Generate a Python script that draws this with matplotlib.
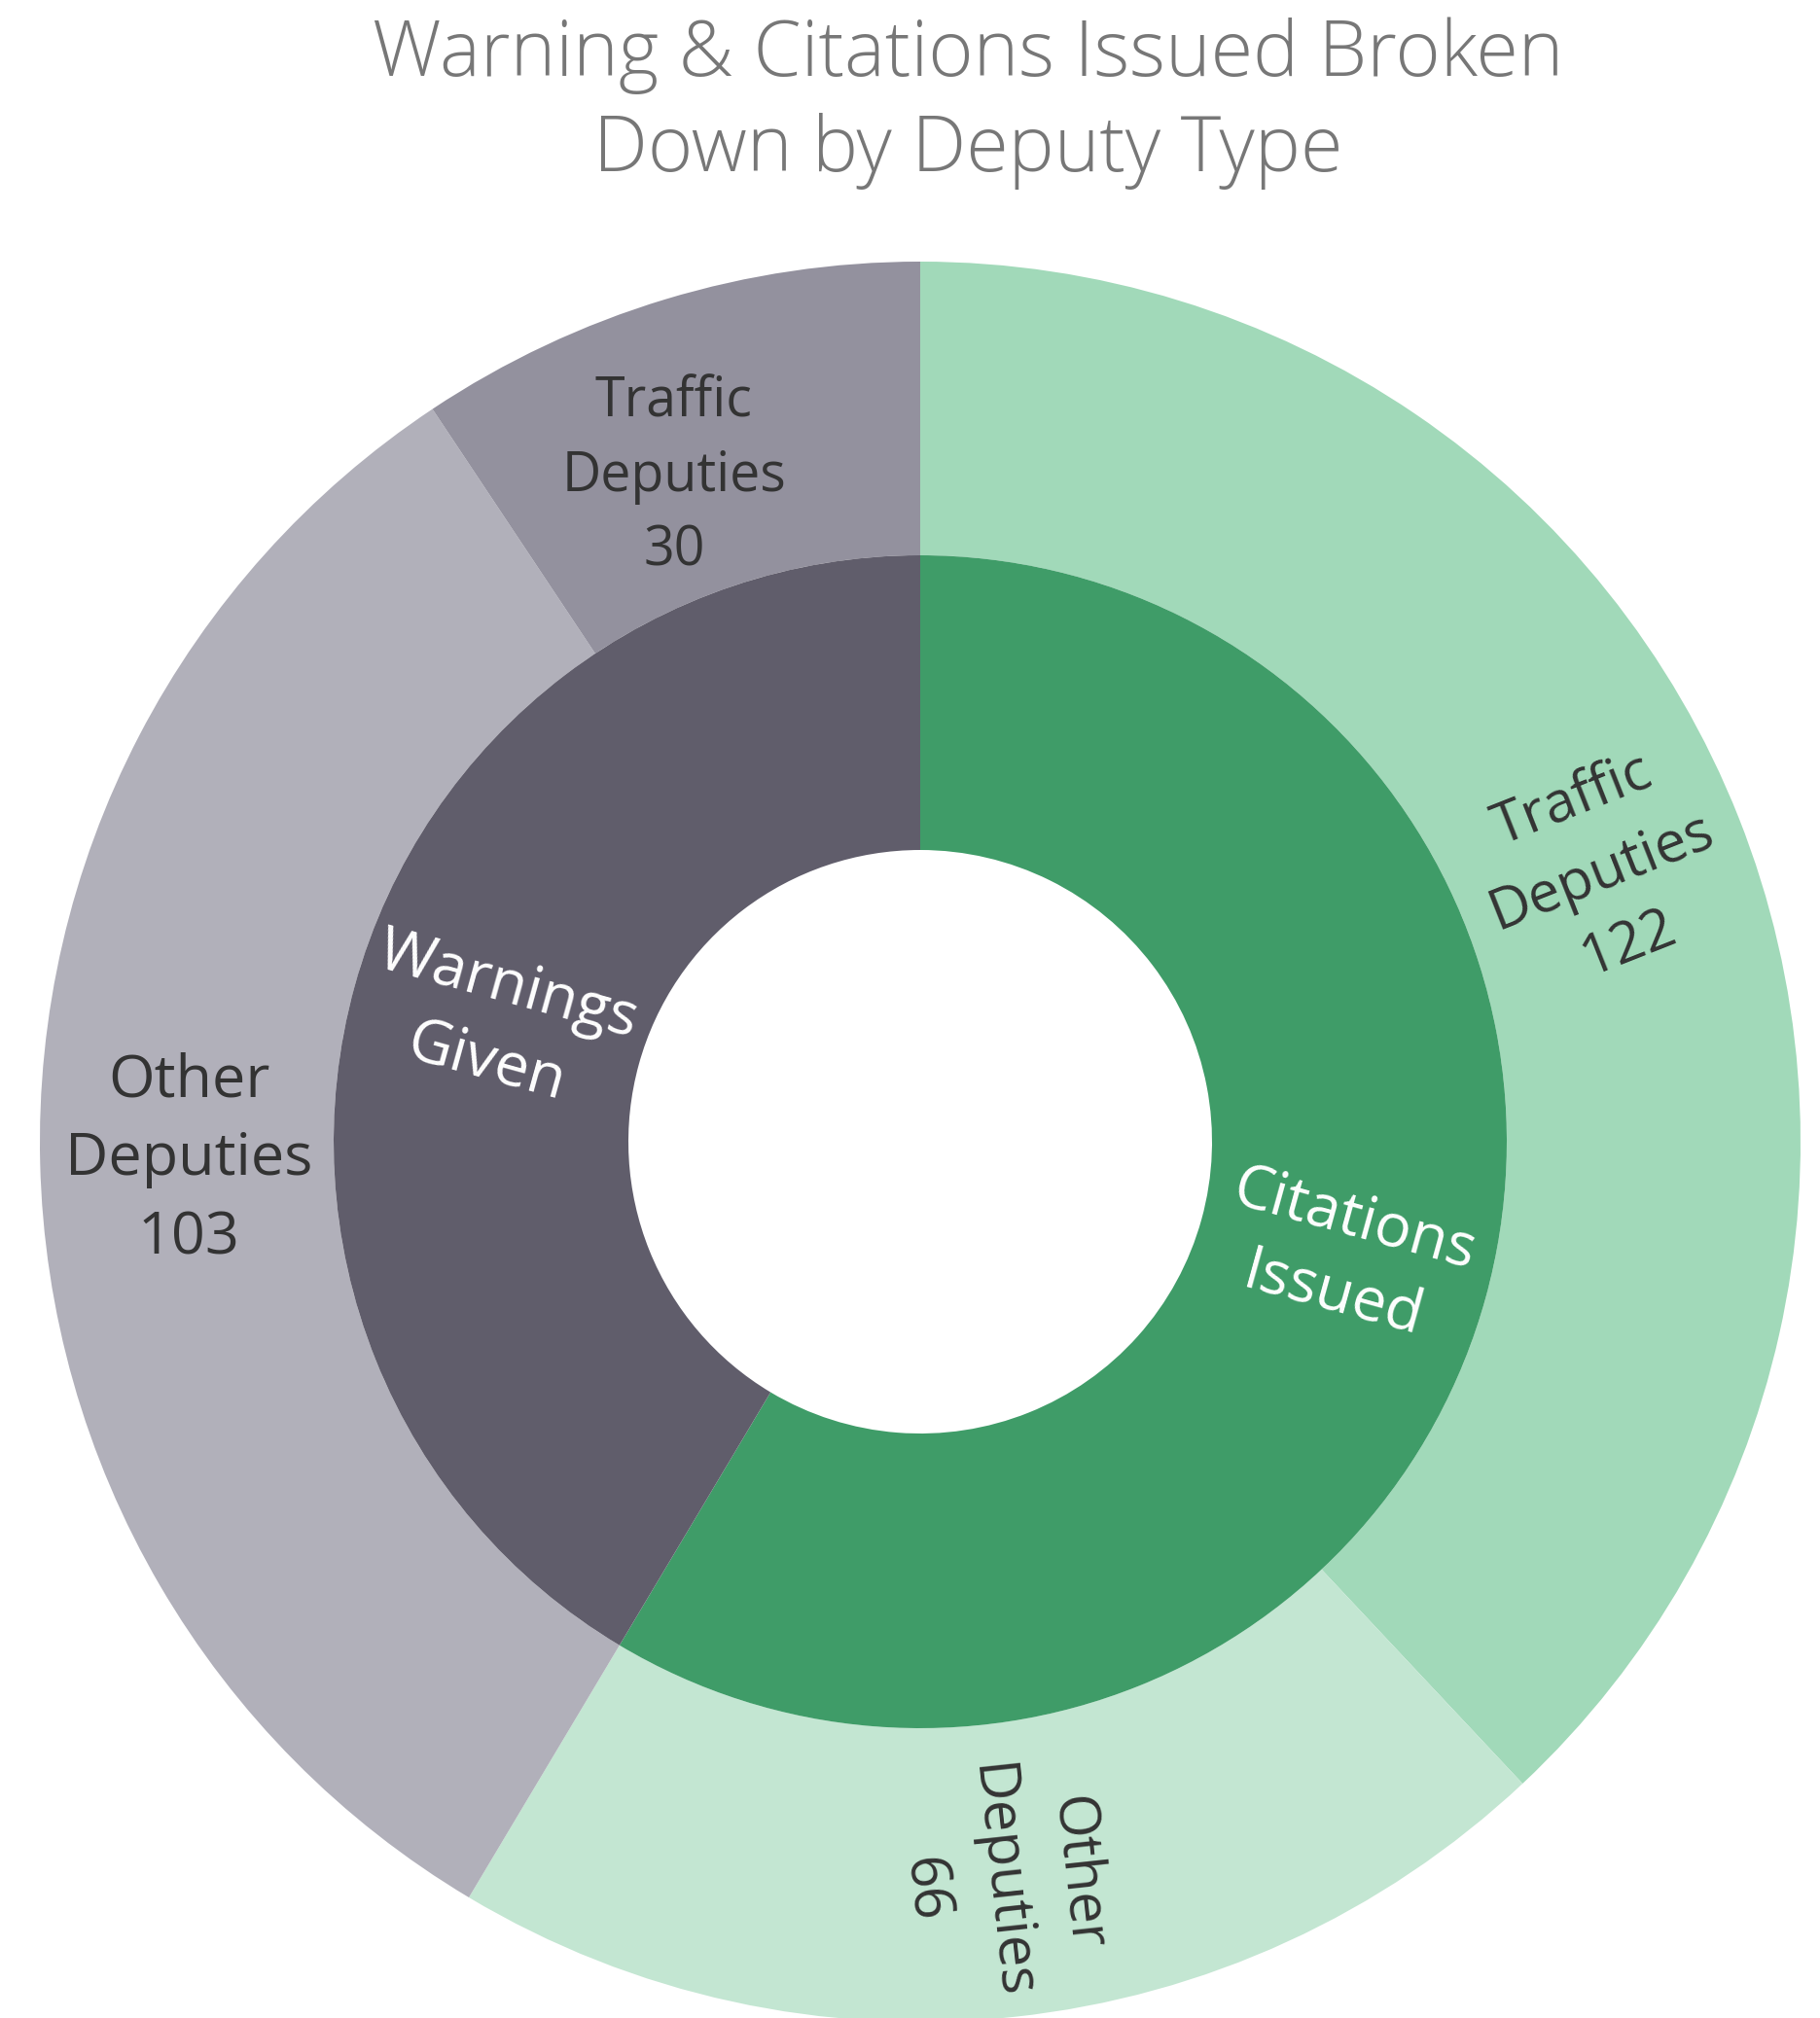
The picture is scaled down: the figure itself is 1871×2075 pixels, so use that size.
import numpy as np
import matplotlib
matplotlib.use("Agg")
import matplotlib.pyplot as plt

title = "Warning & Citations Issued Broken\nDown by Deputy Type"
inner_labels = ["Citations\nIssued", "Warnings\nGiven"]
outer_names = ["Traffic\nDeputies", "Other\nDeputies", "Other\nDeputies", "Traffic\nDeputies"]
outer_values = [122, 66, 103, 30]
outer_parent = [0, 0, 1, 1]
inner_values = [sum(v for v, p in zip(outer_values, outer_parent) if p == i) for i in range(2)]

inner_colors = ["#3f9c68", "#605d6b"]
outer_colors = ["#a1d9b9", "#c3e6d2", "#b1b0ba", "#93919e"]

W, H = 1871, 2075
fig = plt.figure(figsize=(W / 100, H / 100), dpi=100)
ax = fig.add_axes([0, 0, 1, 1])
ax.set_xlim(0, W)
ax.set_ylim(0, H)
ax.set_aspect("equal")
ax.axis("off")

cx, cy = 946, H - 1174
R_out, R_mid, R_hole = 905, 603, 300

ax.pie(outer_values, radius=R_out, center=(cx, cy), startangle=90, counterclock=False,
       colors=outer_colors, wedgeprops=dict(width=R_out - R_mid, linewidth=0))
ax.pie(inner_values, radius=R_mid, center=(cx, cy), startangle=90, counterclock=False,
       colors=inner_colors, wedgeprops=dict(width=R_mid - R_hole, linewidth=0))
ax.set_xlim(0, W)
ax.set_ylim(0, H)

font = "Open Sans"
total = sum(inner_values)

def mid_math_angle(values, i):
    start = sum(values[:i])
    mid = start + values[i] / 2
    return 90 - mid / total * 360

def norm_rot(a):
    while a > 90:
        a -= 180
    while a < -90:
        a += 180
    return a

# inner labels
for i, lab in enumerate(inner_labels):
    a = mid_math_angle(inner_values, i)
    r = (R_mid + R_hole) / 2
    x = cx + r * np.cos(np.radians(a))
    y = cy + r * np.sin(np.radians(a))
    ax.text(x, y, lab, ha="center", va="center", rotation=norm_rot(a), rotation_mode="anchor",
            fontsize=45, color="white", family=font, linespacing=1.4)

# outer labels
outer_sizes = [42, 42, 44, 40]
outer_rot_override = {2: 0, 3: 0}
outer_r = [753, 765, 752, 729]
outer_da = [0, 0, 0, 3.5]
for i, (nm, v) in enumerate(zip(outer_names, outer_values)):
    a = mid_math_angle(outer_values, i) + outer_da[i]
    r = outer_r[i]
    x = cx + r * np.cos(np.radians(a))
    y = cy + r * np.sin(np.radians(a))
    rot = outer_rot_override.get(i, norm_rot(a))
    ax.text(x, y, f"{nm}\n{v}", ha="center", va="center", rotation=rot, rotation_mode="anchor",
            fontsize=outer_sizes[i], color="#333333", family=font, linespacing=1.45)

fig.text(995 / W, 1 - 106 / H, title, ha="center", va="center", fontsize=57,
         color="#777777", family=font, fontweight="light", linespacing=1.3)

fig.savefig("out.png", dpi=100)
